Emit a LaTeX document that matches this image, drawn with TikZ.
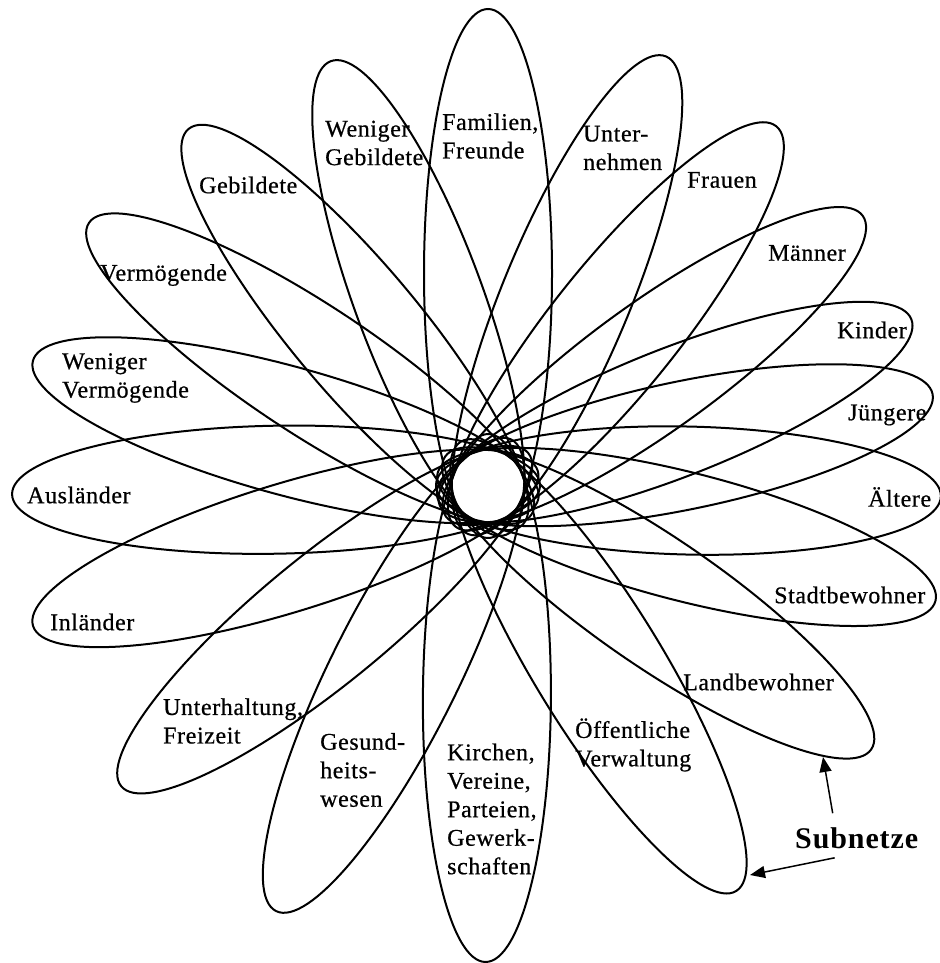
\documentclass[tikz,border=0pt]{standalone}
\usepackage{fontspec}
\setmainfont[LetterSpace=3]{Liberation Serif}
\newfontfamily\lblfont[LetterSpace=2.5,FakeBold=0.6]{Liberation Serif}
\usetikzlibrary{arrows.meta,calc}
\begin{document}
\begin{tikzpicture}[x=1pt,y=1pt,
  petal/.style={draw=black, line width=2pt},
  lbl/.style={anchor=west, inner sep=0pt, align=left, font=\lblfont\fontsize{24}{28.5}\selectfont},
  subl/.style={anchor=west, inner sep=0pt, font=\fontsize{30}{36}\selectfont\bfseries},
  arr/.style={line width=1.5pt, -{Triangle[length=15pt,width=12pt]}}]
\useasboundingbox (0,0) rectangle (939,-963);
\fill[white] (0,0) rectangle (939,-963);
\coordinate (H) at (488,-486);
\foreach \ang/\L in {90/477, 67.5/465, 51.3/461, 35.8/462, 21.5/455, 11.7/454, -1.3/453,
  -14.4/462, -34.5/465, -58.5/475, -90.3/476, -116.5/475, -140.7/474, -162.9/476,
  -179/476, 164.6/472, 146.6/478, 130/466, 110.3/453}{
  \pgfmathsetmacro\ra{(\L+52)/2}
  \pgfmathsetmacro\rd{(\L-52)/2}
  \draw[petal,shift={(H)},rotate=\ang] (\rd,0) ellipse [x radius=\ra, y radius=64];
}
\node[lbl] (fam) at (442,-136) {Familien,\\Freunde};
\node[lbl] (unt) at (583,-148) {Unter-\\nehmen};
\node[lbl] (fra) at (687,-180) {Frauen};
\node[lbl] (mae) at (768,-253) {Männer};
\node[lbl] (kin) at (837,-330) {Kinder};
\node[lbl] (jue) at (848,-415) {Jüngere};
\node[lbl] (ael) at (868,-497) {Ältere};
\node[lbl] (sta) at (774,-595) {Stadtbewohner};
\node[lbl] (lan) at (683,-682) {Landbewohner};
\node[lbl] (oef) at (575,-745) {Öffentliche\\Verwaltung};
\node[lbl] (kir) at (447,-809) {Kirchen,\\Vereine,\\Parteien,\\Gewerk-\\schaften};
\node[lbl] (ges) at (320,-770) {Gesund-\\heits-\\wesen};
\node[lbl] (unh) at (163,-721) {Unterhaltung,\\Freizeit};
\node[lbl] (inl) at (50,-622) {Inländer};
\node[lbl] (aus) at (27,-495) {Ausländer};
\node[lbl] (wve) at (62,-378) {Weniger\\Vermögende};
\node[lbl] (ver) at (100,-275) {Vermögende};
\node[lbl] (geb) at (199,-185) {Gebildete};
\node[lbl] (wge) at (325,-143) {Weniger\\Gebildete};
\node[subl] (sub) at (795,-838) {Subnetze};
\coordinate (a1e) at (823,-757);
\coordinate (a2e) at (750,-875);
\draw[arr] ([xshift=-24pt,yshift=14pt]sub.north) -- (a1e);
\draw[arr] ([xshift=-22pt,yshift=-9pt]sub.south) -- (a2e);
\end{tikzpicture}
\end{document}
